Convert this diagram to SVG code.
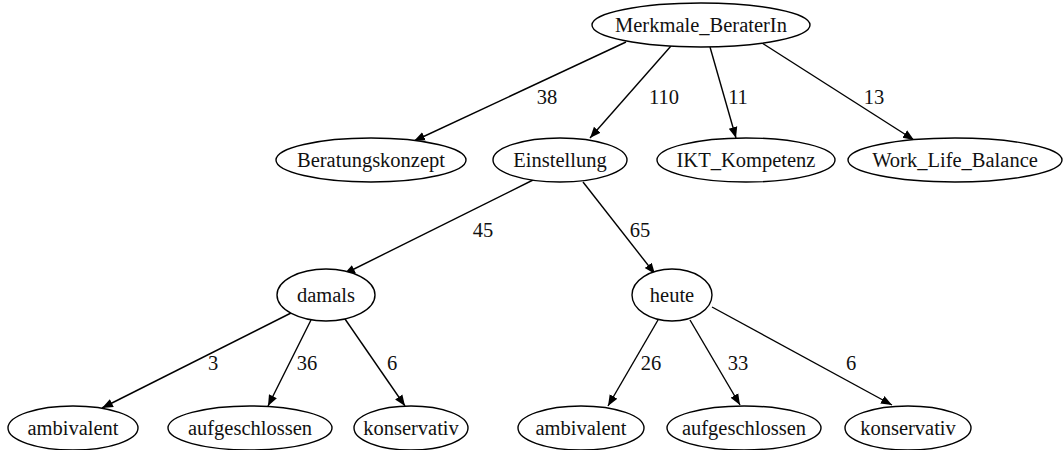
<svg xmlns="http://www.w3.org/2000/svg" width="1063" height="450" viewBox="0 0 1063 450">
<style>
ellipse{fill:#fff;stroke:#000;stroke-width:1.4}
text{font-family:"Liberation Serif","Times New Roman",serif;font-size:20.5px;fill:#111;text-anchor:middle}
.e line{stroke:#000;stroke-width:1.4}
</style>
<defs>
<marker id="a" viewBox="0 0 10 10" refX="10" refY="5" markerWidth="11" markerHeight="11" markerUnits="userSpaceOnUse" orient="auto"><path d="M0,1 L10,5 L0,9 z" fill="#000"/></marker>
</defs>
<rect width="1063" height="450" fill="#fff"/>
<g class="e" id="connectors">
<line x1="626" y1="42" x2="414" y2="141" marker-end="url(#a)"/>
<line x1="671" y1="46" x2="590" y2="138" marker-end="url(#a)"/>
<line x1="710" y1="47" x2="736" y2="138" marker-end="url(#a)"/>
<line x1="762" y1="43" x2="914" y2="140" marker-end="url(#a)"/>
<line x1="533" y1="180" x2="344" y2="274" marker-end="url(#a)"/>
<line x1="583" y1="182" x2="655" y2="274" marker-end="url(#a)"/>
<line x1="291" y1="313" x2="102" y2="408" marker-end="url(#a)"/>
<line x1="311" y1="320" x2="268" y2="406" marker-end="url(#a)"/>
<line x1="345" y1="319" x2="405" y2="406" marker-end="url(#a)"/>
<line x1="658" y1="320" x2="608" y2="406" marker-end="url(#a)"/>
<line x1="690" y1="320" x2="740" y2="405" marker-end="url(#a)"/>
<line x1="712" y1="307" x2="892" y2="405" marker-end="url(#a)"/>
<text x="547" y="104">38</text>
<text x="664" y="104">110</text>
<text x="738" y="104">11</text>
<text x="874" y="104">13</text>
<text x="483" y="237">45</text>
<text x="640" y="237">65</text>
<text x="213" y="370">3</text>
<text x="307" y="370">36</text>
<text x="392" y="370">6</text>
<text x="651" y="370">26</text>
<text x="738" y="370">33</text>
<text x="851" y="370">6</text>
</g>
<g id="n_merkmale"><ellipse cx="701" cy="25" rx="109" ry="22"/><text x="701" y="32">Merkmale_BeraterIn</text></g>
<g id="n_beratungskonzept"><ellipse cx="371" cy="160" rx="95" ry="22"/><text x="371" y="167">Beratungskonzept</text></g>
<g id="n_einstellung"><ellipse cx="560" cy="160" rx="67" ry="22"/><text x="560" y="167">Einstellung</text></g>
<g id="n_ikt"><ellipse cx="746" cy="160" rx="89" ry="22"/><text x="746" y="167">IKT_Kompetenz</text></g>
<g id="n_wlb"><ellipse cx="955" cy="160" rx="107" ry="22"/><text x="955" y="167">Work_Life_Balance</text></g>
<g id="n_damals"><ellipse cx="326" cy="295" rx="49" ry="26"/><text x="326" y="302">damals</text></g>
<g id="n_heute"><ellipse cx="672" cy="295" rx="40" ry="26"/><text x="672" y="302">heute</text></g>
<g id="n_d_amb"><ellipse cx="73" cy="428" rx="65" ry="22"/><text x="73" y="435">ambivalent</text></g>
<g id="n_d_auf"><ellipse cx="250" cy="428" rx="82" ry="22"/><text x="250" y="435">aufgeschlossen</text></g>
<g id="n_d_kon"><ellipse cx="411" cy="428" rx="57" ry="22"/><text x="411" y="435">konservativ</text></g>
<g id="n_h_amb"><ellipse cx="581" cy="428" rx="63" ry="22"/><text x="581" y="435">ambivalent</text></g>
<g id="n_h_auf"><ellipse cx="744" cy="428" rx="77" ry="22"/><text x="744" y="435">aufgeschlossen</text></g>
<g id="n_h_kon"><ellipse cx="908" cy="428" rx="63" ry="22"/><text x="908" y="435">konservativ</text></g>
</svg>
